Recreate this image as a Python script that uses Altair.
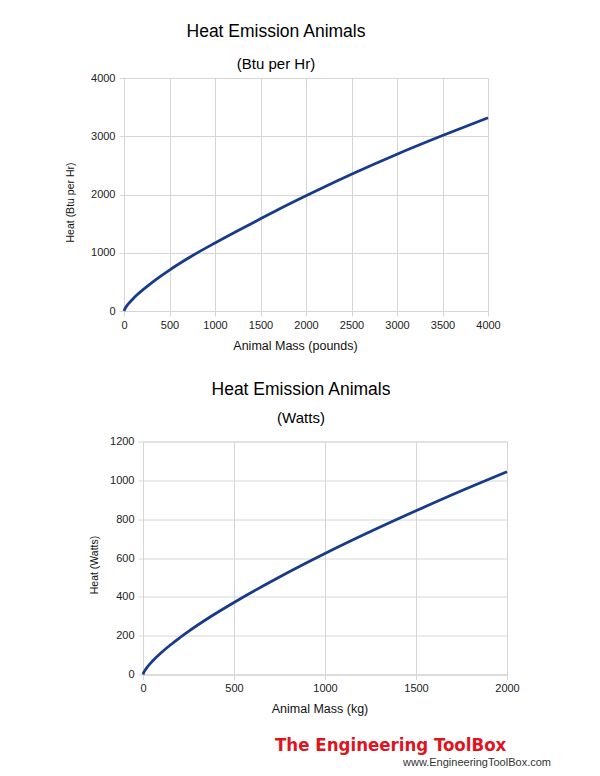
import altair as alt
import pandas as pd

# ---- data ----
MASS_LB = [0, 10, 25, 50, 100, 150, 200, 300, 400, 500, 750, 1000, 1250, 1500, 1750, 2000, 2500, 3000, 3500, 4000]
HEAT_BTU = [0, 38, 75, 126, 212, 287, 355, 480, 595, 703, 948, 1168, 1378, 1582, 1785, 1978, 2348, 2692, 3012, 3318]

MASS_KG = [0, 5, 10, 25, 50, 100, 150, 200, 250, 375, 500, 750, 1000, 1250, 1500, 1750, 2000]
HEAT_W = [0, 12, 20, 40, 67, 112, 152, 188, 222, 300, 371, 502, 623, 736, 843, 946, 1044]

X_TICKS_LB = [0, 500, 1000, 1500, 2000, 2500, 3000, 3500, 4000]
Y_TICKS_BTU = [0, 1000, 2000, 3000, 4000]
X_TICKS_KG = [0, 500, 1000, 1500, 2000]
Y_TICKS_W = [0, 200, 400, 600, 800, 1000, 1200]

TITLE = "Heat Emission Animals"
SUB_TOP = "(Btu per Hr)"
SUB_BOT = "(Watts)"
XT_TOP = "Animal Mass (pounds)"
YT_TOP = "Heat (Btu per Hr)"
XT_BOT = "Animal Mass (kg)"
YT_BOT = "Heat (Watts)"
LOGO = ["The Engineering ToolBox"]
URL = ["www.EngineeringToolBox.com"]

FONT = "Liberation Sans"
LOGO_FONT = "DejaVu Sans Condensed, Liberation Sans Narrow, Roboto, Liberation Sans, sans-serif"
GRID = "#d6d6d6"
LINE = "#173a8a"
W, H = 364, 233


def xaxis(title, ticks, tx, ty):
    return alt.Axis(values=ticks, title=title, format="d", grid=True, labelFlush=False,
                    gridColor=GRID, domainColor=GRID, tickColor=GRID, tickSize=5,
                    labelFont=FONT, labelFontSize=11, labelColor="#222", labelPadding=3,
                    titleFont=FONT, titleFontSize=12.5, titleFontWeight="normal",
                    titleColor="#111", titleX=tx, titleY=ty, titleBaseline="top")


def yaxis(title, ticks, tx, ty):
    return alt.Axis(values=ticks, title=title, format="d", grid=True, labelFlush=False,
                    gridColor=GRID, domainColor=GRID, tickColor=GRID, tickSize=5,
                    labelFont=FONT, labelFontSize=11, labelColor="#222", labelPadding=4,
                    titleFont=FONT, titleFontSize=10.5, titleFontWeight="normal",
                    titleColor="#111", titleX=tx, titleY=ty, titleBaseline="top")


def title(sub, dx, spad, off):
    return alt.TitleParams(text=TITLE, subtitle=sub, font=FONT, fontSize=17.5,
                           fontWeight="normal", color="black",
                           subtitleFont=FONT, subtitleFontSize=15, subtitleColor="black",
                           anchor="middle", frame="group", dx=dx,
                           subtitlePadding=spad, offset=off)


def spacer(w):
    return alt.Chart(pd.DataFrame({"a": [0]})).mark_point(opacity=0).properties(width=w, height=1)


top_df = pd.DataFrame({"mass": MASS_LB, "heat": HEAT_BTU})
bot_df = pd.DataFrame({"mass": MASS_KG, "heat": HEAT_W})

top = alt.Chart(top_df).mark_line(color=LINE, strokeWidth=2.8, interpolate="monotone").encode(
    x=alt.X("mass:Q", scale=alt.Scale(domain=[0, 4000], nice=False),
            axis=xaxis(XT_TOP, X_TICKS_LB, 171, 28)),
    y=alt.Y("heat:Q", scale=alt.Scale(domain=[0, 4000], nice=False),
            axis=yaxis(YT_TOP, Y_TICKS_BTU, -59, 124)),
).properties(width=W, height=H, title=title(SUB_TOP, -30, 17, 0))

bot_line = alt.Chart(bot_df).mark_line(color=LINE, strokeWidth=2.8, interpolate="monotone").encode(
    x=alt.X("mass:Q", scale=alt.Scale(domain=[0, 2000], nice=False),
            axis=xaxis(XT_BOT, X_TICKS_KG, 176.5, 27.5)),
    y=alt.Y("heat:Q", scale=alt.Scale(domain=[0, 1200], nice=False),
            axis=yaxis(YT_BOT, Y_TICKS_W, -54, 123)),
)

logo = alt.Chart(pd.DataFrame({"t": LOGO})).mark_text(
    font=LOGO_FONT, fontSize=18.5, fontWeight="bold", color="#e0141e",
    align="left", baseline="alphabetic").encode(
    text="t:N", x=alt.value(132), y=alt.value(309))

url = alt.Chart(pd.DataFrame({"t": URL})).mark_text(
    font=FONT, fontSize=11, color="#333", align="left", baseline="alphabetic").encode(
    text="t:N", x=alt.value(260), y=alt.value(324))

bottom = alt.layer(bot_line, logo, url).properties(
    width=W, height=H, title=title(SUB_BOT, -24, 13, 9.5))

chart = alt.vconcat(
    alt.hconcat(spacer(24), top, spacing=0),
    alt.hconcat(spacer(48), bottom, spacing=0),
    spacing=27.5,
).properties(
    padding={"left": 40, "top": 22, "right": 5, "bottom": 5}
).configure_view(stroke=None).configure(background="white")

chart.save("out.html", embed_options={"renderer": "svg", "actions": False})
